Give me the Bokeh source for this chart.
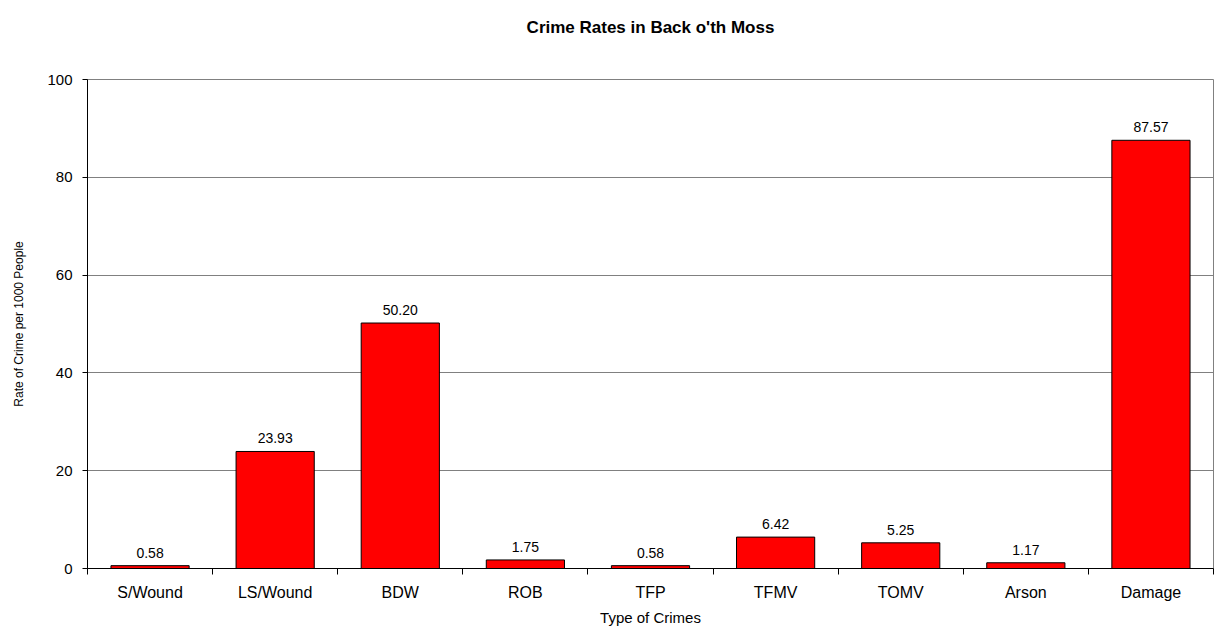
from bokeh.plotting import figure
from bokeh.models import ColumnDataSource, FixedTicker, Range1d, LabelSet, Title
from bokeh.core.properties import value
from bokeh.embed import file_html
from bokeh.resources import INLINE

categories = ["S/Wound", "LS/Wound", "BDW", "ROB", "TFP", "TFMV", "TOMV", "Arson", "Damage"]
rates = [0.58, 23.93, 50.20, 1.75, 0.58, 6.42, 5.25, 1.17, 87.57]
y_ticks = [0, 20, 40, 60, 80, 100]

xs = list(range(len(categories)))
src = ColumnDataSource(dict(x=xs, top=rates, lbl=[f"{v:.2f}" for v in rates]))

FONT = "Liberation Sans"

p = figure(width=1217, height=628, output_backend="svg", toolbar_location=None,
           x_range=Range1d(-0.5, len(categories) - 0.5), y_range=Range1d(0, 100),
           min_border_left=87, min_border_right=4, min_border_top=79, min_border_bottom=60)

p.title.text = "Crime Rates in Back o'th Moss"
p.title.text_font = FONT
p.title.text_font_size = "17px"
p.title.text_font_style = "bold"
p.title.text_color = "black"
p.title.align = "center"
p.title.standoff = 0

# blank spacer between the title and the plot frame
p.add_layout(Title(text=" ", text_font_size="1px", standoff=40), "above")

p.vbar(x="x", top="top", width=0.625, source=src, fill_color="#FF0000",
       line_color="black", line_width=1)

labels = LabelSet(x="x", y="top", text="lbl", source=src, text_align="center",
                  text_baseline="bottom", y_offset=8, text_font=value(FONT),
                  text_font_size="14px", text_color="black")
p.add_layout(labels)

# x axis
p.xaxis.ticker = FixedTicker(ticks=xs, minor_ticks=[i - 0.5 for i in range(len(categories) + 1)])
p.xaxis.major_label_overrides = {i: c for i, c in enumerate(categories)}
p.xaxis.major_tick_out = 0
p.xaxis.major_tick_in = 0
p.xaxis.minor_tick_out = 6
p.xaxis.minor_tick_in = 0
p.xaxis.minor_tick_line_color = "black"
p.xaxis.axis_line_color = "black"
p.xaxis.major_label_text_font = FONT
p.xaxis.major_label_text_font_size = "16px"
p.xaxis.major_label_text_color = "black"
p.xaxis.major_label_standoff = 9
p.xaxis.axis_label = "Type of Crimes"
p.xaxis.axis_label_text_font = FONT
p.xaxis.axis_label_text_font_size = "15px"
p.xaxis.axis_label_text_font_style = "normal"
p.xaxis.axis_label_text_color = "black"
p.xaxis.axis_label_standoff = 5

# y axis
p.yaxis.ticker = FixedTicker(ticks=y_ticks, minor_ticks=[])
p.yaxis.major_tick_out = 5
p.yaxis.major_tick_in = 0
p.yaxis.major_tick_line_color = "black"
p.yaxis.axis_line_color = "black"
p.yaxis.major_label_text_font = FONT
p.yaxis.major_label_text_font_size = "15px"
p.yaxis.major_label_text_color = "black"
p.yaxis.major_label_standoff = 10
p.yaxis.axis_label = "Rate of Crime per 1000 People"
p.yaxis.axis_label_text_font = FONT
p.yaxis.axis_label_text_font_size = "12px"
p.yaxis.axis_label_text_font_style = "normal"
p.yaxis.axis_label_text_color = "black"
p.yaxis.axis_label_standoff = 18

p.xgrid.grid_line_color = None
p.ygrid.grid_line_color = "#808080"
p.ygrid.grid_line_width = 1
p.outline_line_color = "#808080"
p.background_fill_color = "white"
p.border_fill_color = "white"

open("out.html", "w").write(file_html(p, INLINE))
